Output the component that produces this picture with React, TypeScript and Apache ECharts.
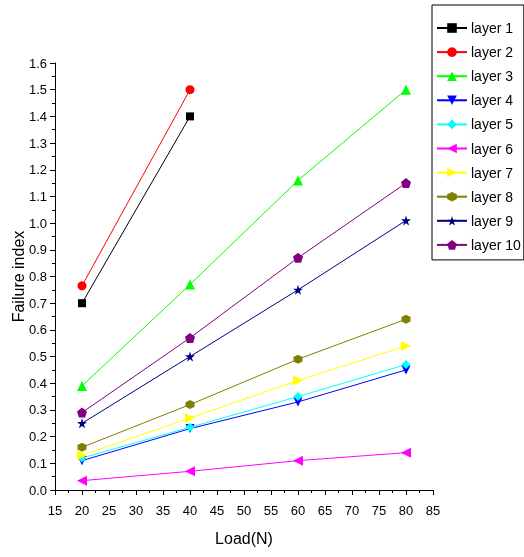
import React, { useEffect, useRef } from "react";
import * as echarts from "echarts";

const loads = [20, 40, 60, 80];
const layerNames = ["layer 1", "layer 2", "layer 3", "layer 4", "layer 5", "layer 6", "layer 7", "layer 8", "layer 9", "layer 10"];
const layer1 = [0.70, 1.40];
const layer2 = [0.765, 1.50];
const layer3 = [0.39, 0.77, 1.16, 1.50];
const layer4 = [0.11, 0.23, 0.33, 0.45];
const layer5 = [0.12, 0.235, 0.35, 0.47];
const layer6 = [0.035, 0.07, 0.11, 0.14];
const layer7 = [0.13, 0.27, 0.41, 0.54];
const layer8 = [0.16, 0.32, 0.49, 0.64];
const layer9 = [0.25, 0.50, 0.75, 1.01];
const layer10 = [0.29, 0.57, 0.87, 1.15];
const layerValues = [layer1, layer2, layer3, layer4, layer5, layer6, layer7, layer8, layer9, layer10];

const colors = ["#000000", "#ff0000", "#00ff00", "#0000ff", "#00ffff", "#ff00ff", "#ffff00", "#808000", "#000080", "#800080"];
const symbols = [
  "rect",
  "circle",
  "triangle",
  "path://M0,0 L10,0 L5,10 Z",
  "diamond",
  "path://M0,5 L10,0 L10,10 Z",
  "path://M10,5 L0,0 L0,10 Z",
  "path://M5,0 L9.5,2.5 L9.5,7.5 L5,10 L0.5,7.5 L0.5,2.5 Z",
  "path://M5,0 L6.2,3.6 L10,3.6 L6.9,5.9 L8.1,9.5 L5,7.3 L1.9,9.5 L3.1,5.9 L0,3.6 L3.8,3.6 Z",
  "path://M5,0 L10,3.8 L8.1,10 L1.9,10 L0,3.8 Z",
];
const symbolSizes = [8, 9, 10, 9, 9, 10, 10, 9, 10, 10];

const FONT = "'Liberation Sans', Arial, sans-serif";

export default function App() {
  const ref = useRef<HTMLDivElement>(null);
  useEffect(() => {
    if (!ref.current) return;
    const chart = echarts.init(ref.current, undefined, { renderer: "svg" });
    const series = layerNames.map((name, i) => ({
      name,
      type: "line",
      data: layerValues[i].map((v, j) => [loads[j], v]),
      symbol: symbols[i],
      symbolSize: symbolSizes[i],
      showAllSymbol: true,
      itemStyle: { color: colors[i] },
      lineStyle: { color: colors[i], width: 1 },
      emphasis: { disabled: true },
    }));
    chart.setOption({
      animation: false,
      textStyle: { fontFamily: FONT },
      grid: { left: 55, top: 63, right: 91, bottom: 67, containLabel: false, outerBoundsMode: "none" },
      legend: {
        orient: "vertical",
        left: 432,
        top: 5,
        padding: [16, 3, 8, 4],
        itemWidth: 30,
        itemHeight: 12,
        itemGap: 10.1,
        borderColor: "#000",
        borderWidth: 1,
        backgroundColor: "#fff",
        textStyle: { fontSize: 14, color: "#000", fontFamily: FONT, padding: [0, 0, 0, -1] },
        data: layerNames,
      },
      xAxis: {
        type: "value",
        min: 15,
        max: 85,
        interval: 5,
        name: "Load(N)",
        nameLocation: "middle",
        nameGap: 40,
        nameTextStyle: { fontSize: 16, color: "#000", fontFamily: FONT },
        axisLine: { lineStyle: { color: "#000", width: 1 } },
        axisTick: { inside: false, length: 5, lineStyle: { color: "#000" } },
        minorTick: { show: true, splitNumber: 2, length: 3, lineStyle: { color: "#000" } },
        axisLabel: { fontSize: 13, color: "#000", margin: 14, fontFamily: FONT },
        splitLine: { show: false },
      },
      yAxis: {
        type: "value",
        min: 0,
        max: 1.6,
        interval: 0.1,
        name: "Failure index",
        nameLocation: "middle",
        nameGap: 29,
        nameMoveOverlap: false,
        nameTextStyle: { fontSize: 16, color: "#000", fontFamily: FONT },
        axisLine: { show: true, lineStyle: { color: "#000", width: 1 } },
        axisTick: { show: true, inside: false, length: 5, lineStyle: { color: "#000" } },
        minorTick: { show: true, splitNumber: 2, length: 3, lineStyle: { color: "#000" } },
        axisLabel: { fontSize: 13, color: "#000", margin: 8, fontFamily: FONT, formatter: (v: number) => v.toFixed(1) },
        splitLine: { show: false },
      },
      series,
    });
    return () => chart.dispose();
  }, []);
  return <div ref={ref} style={{ position: "fixed", left: 0, top: 0, width: 524, height: 557 }} />;
}
